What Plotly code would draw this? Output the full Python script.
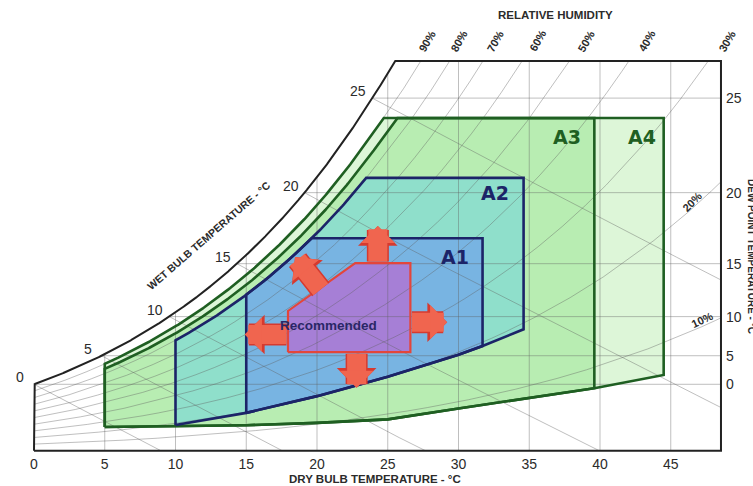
import numpy as np
import plotly.graph_objects as go

# ---------------- values ----------------
dry_bulb_ticks = [0, 5, 10, 15, 20, 25, 30, 35, 40, 45]
dew_point_ticks = [0, 5, 10, 15, 20, 25]
wet_bulb_levels = [0, 5, 10, 15, 20, 25]
rh_levels = [10, 20, 30, 40, 50, 60, 70, 80, 90]
rh_top_labels = [90, 80, 70, 60, 50, 40, 30]
rh_side_labels = [20, 10]
rh_side_label_t = [46.5, 47.2]

frame_t_max = 48.55   # dry bulb at right frame (°C)
frame_w_max = 22.14   # humidity ratio at top frame (g/kg)

zone_names = ["A4", "A3", "A2", "A1"]
zone_t_min = [5, 5, 10, 15]
zone_t_max = [44.5, 39.6, 34.6, 31.7]
zone_w_top = [18.9, 18.9, 15.5, 12.07]
zone_rh_top = [90, 85, 80, 80]
zone_label_t = [43.0, 37.7, 32.6, 29.75]
zone_label_w = [17.8, 17.8, 14.64, 11.0]

a34_bottom_t = [5, 10, 15, 20, 25, 30, 35, 39.6, 44.5]
a34_bottom_w = [1.35, 1.40, 1.45, 1.58, 1.78, 2.4, 3.0, 3.55, 4.3]
a12_bottom_t = [10, 15, 20, 25, 30, 31.7, 34.6]
a12_bottom_w = [1.46, 2.15, 3.1, 4.2, 5.45, 5.95, 6.9]

rec_t = [17.95, 26.6, 26.6, 22.7, 17.95]
rec_w = [5.6, 5.6, 10.66, 10.66, 7.94]
rec_label_t, rec_label_w = 20.8, 7.13

arrow_tail_t = [24.3, 20.35, 17.95, 26.6, 22.8]
arrow_tail_w = [10.66, 9.08, 6.6, 7.3, 5.6]
arrow_tip_t = [24.3, 18.45, 14.9, 29.2, 22.8]
arrow_tip_w = [12.77, 11.0, 6.6, 7.3, 3.57]

# ---------------- styling ----------------
zone_fill = {"A4": "#ddf6d8", "A3": "#b8edb2", "A2": "#8fdfcb", "A1": "#78b4e2"}
zone_line = {"A4": "#1f5f22", "A3": "#1f5f22", "A2": "#1c2468", "A1": "#1c2468"}
rec_fill = "#a67fd6"
red = "#e3463b"
arrow_red = "#f0654f"
arrow_edge = "#d63a2f"
grid_col = "rgba(95,95,95,0.40)"
frame_col = "#222222"
font_family = "Liberation Sans, Arial, sans-serif"
text_col = "#2b2b2b"

# ---------------- psychrometric helpers (chart grid) ----------------
P = 101.325


def pws(t):
    t = np.asarray(t, dtype=float)
    return 0.61094 * np.exp(17.625 * t / (t + 243.04))


def w_from_pw(pw):
    return 622.0 * pw / (P - pw)


def to_chart(tp):
    tp = np.asarray(tp, dtype=float)
    return tp - 1.1 * np.clip(tp / 25.0, 0, 1)


TP = np.linspace(-0.5, 62, 6000)
TC = to_chart(TP)
WSAT = w_from_pw(pws(TP))


def rh_curve(rh):
    return TC, w_from_pw(rh / 100.0 * pws(TP))


def clip_pts(tc, w, t_lo=0.0):
    m = (tc >= t_lo) & (tc <= frame_t_max) & (w <= frame_w_max) & (w >= 0)
    return tc[m], w[m]


gx, gy = [], []


def add_seg(xs, ys):
    gx.extend(list(xs) + [None])
    gy.extend(list(ys) + [None])


for rh in rh_levels:
    tc, w = rh_curve(rh)
    tc, w = clip_pts(tc, w)
    add_seg(tc, w)
for t in dry_bulb_ticks[1:]:
    wtop = min(float(np.interp(t, TC, WSAT)), frame_w_max)
    add_seg([t, t], [0, wtop])
for dp in dew_point_ticks:
    wdp = float(w_from_pw(pws(dp)))
    add_seg([float(to_chart(dp)), frame_t_max], [wdp, wdp])
for twb in wet_bulb_levels:
    tp = np.linspace(twb, 70, 1500)
    wsw = w_from_pw(pws(twb))
    w = ((2501 - 2.326 * twb) * wsw - 1006 * (tp - twb)) / (2501 + 1.86 * tp - 4.186 * twb)
    tc = to_chart(tp)
    tc, w = clip_pts(tc, w)
    add_seg(tc, w)


def zone_polygon(i):
    tmin, tmax, wtop, rh = zone_t_min[i], zone_t_max[i], zone_w_top[i], zone_rh_top[i]
    if zone_names[i] in ("A4", "A3"):
        bt, bw = a34_bottom_t, a34_bottom_w
    else:
        bt, bw = a12_bottom_t, a12_bottom_w
    xs = [t for t in bt if tmin <= t <= tmax]
    ys = [w for t, w in zip(bt, bw) if tmin <= t <= tmax]
    xs += [tmax]
    ys += [wtop]
    tc, w = rh_curve(rh)
    t_end = float(np.interp(wtop, w, tc))
    xs += [t_end]
    ys += [wtop]
    m = (tc >= tmin) & (tc <= t_end)
    xs += list(tc[m][::-1][::8])
    ys += list(w[m][::-1][::8])
    w_start = float(np.interp(tmin, tc, w))
    xs += [tmin, xs[0]]
    ys += [w_start, ys[0]]
    return xs, ys


fig = go.Figure()
polys = [zone_polygon(i) for i in range(len(zone_names))]
for name, (xs, ys) in zip(zone_names, polys):
    fig.add_trace(go.Scatter(x=xs, y=ys, mode="lines", fill="toself",
                             fillcolor=zone_fill[name], line=dict(width=0),
                             hoverinfo="skip", showlegend=False))
fig.add_trace(go.Scatter(x=rec_t + [rec_t[0]], y=rec_w + [rec_w[0]], mode="lines",
                         fill="toself", fillcolor=rec_fill, line=dict(width=0),
                         hoverinfo="skip", showlegend=False))
fig.add_trace(go.Scatter(x=gx, y=gy, mode="lines", line=dict(color=grid_col, width=1),
                         hoverinfo="skip", showlegend=False))
for name, (xs, ys) in zip(zone_names, polys):
    fig.add_trace(go.Scatter(x=xs, y=ys, mode="lines",
                             line=dict(color=zone_line[name], width=2.6),
                             hoverinfo="skip", showlegend=False))
fig.add_trace(go.Scatter(x=rec_t + [rec_t[0]], y=rec_w + [rec_w[0]], mode="lines",
                         line=dict(color=red, width=2.2), hoverinfo="skip", showlegend=False))

w0 = float(np.interp(0.0, TC, WSAT))
m = (TC >= 0) & (WSAT <= frame_w_max)
t_top = float(np.interp(frame_w_max, WSAT, TC))
fx = [0.0, 0.0] + list(TC[m]) + [t_top, frame_t_max, frame_t_max, 0.0]
fy = [0.0, w0] + list(WSAT[m]) + [frame_w_max, frame_w_max, 0.0, 0.0]
fig.add_trace(go.Scatter(x=fx, y=fy, mode="lines", line=dict(color=frame_col, width=2),
                         hoverinfo="skip", showlegend=False))

# arrows: darker edge underneath, lighter body on top
for width, col in [(22, arrow_edge), (19, arrow_red)]:
    for i in range(len(arrow_tip_t)):
        fig.add_annotation(x=arrow_tip_t[i], y=arrow_tip_w[i], ax=arrow_tail_t[i], ay=arrow_tail_w[i],
                           xref="x", yref="y", axref="x", ayref="y", text="", showarrow=True,
                           arrowhead=1, arrowsize=0.3, arrowwidth=width, arrowcolor=col,
                           standoff=0, startstandoff=0)

for name, lt, lw in zip(zone_names, zone_label_t, zone_label_w):
    fig.add_annotation(x=lt, y=lw, xref="x", yref="y", showarrow=False,
                       xanchor="center", yanchor="middle",
                       text="<b>%s</b>" % name,
                       font=dict(family="DejaVu Sans, Liberation Sans, Arial", size=19, color=zone_line[name]))
fig.add_annotation(x=rec_label_t, y=rec_label_w, xref="x", yref="y", showarrow=False,
                   xanchor="center", yanchor="middle",
                   text="<b>Recommended</b>",
                   font=dict(family=font_family, size=13.5, color="#2a2766"))

for twb in wet_bulb_levels:
    fig.add_annotation(x=float(to_chart(twb)), y=float(w_from_pw(pws(twb))), xref="x", yref="y",
                       showarrow=False, text=str(twb), xshift=-14, yshift=7,
                       xanchor="center", yanchor="middle",
                       font=dict(family=font_family, size=14, color=text_col))

for rh in rh_top_labels:
    tc, w = rh_curve(rh)
    t_cross = float(np.interp(frame_w_max, w, tc))
    shift = 17 + 0.1 * max(0, 50 - rh) - 0.3 * max(0, rh - 55)
    fig.add_annotation(x=t_cross, y=frame_w_max, xref="x", yref="y", showarrow=False,
                       xanchor="center", yanchor="middle",
                       text="<b>%d%%</b>" % rh, textangle=-60, xshift=shift, yshift=20,
                       font=dict(family=font_family, size=11, color=text_col))
side_angles = [-45, -25]
for rh, lt, ang in zip(rh_side_labels, rh_side_label_t, side_angles):
    tc, w = rh_curve(rh)
    fig.add_annotation(x=lt, y=float(np.interp(lt, tc, w)), xref="x", yref="y", showarrow=False,
                       xanchor="center", yanchor="middle",
                       text="<b>%d%%</b>" % rh, textangle=ang, yshift=7,
                       font=dict(family=font_family, size=11, color=text_col))

for tx, ty, txt, ang, fs in [
    (0.4993, -0.0628, "DRY BULB TEMPERATURE - °C", 0, 11.5),
    (0.758, 1.103, "RELATIVE HUMIDITY", 0, 11.5),
    (0.2618, 0.5503, "WET BULB TEMPERATURE - °C", -41, 10.5),
    (1.0372, 0.4975, "DEW POINT TEMPERATURE - °C", 90, 10),
]:
    fig.add_annotation(xref="paper", yref="paper", x=tx, y=ty, showarrow=False,
                       xanchor="center", yanchor="middle",
                       text="<b>%s</b>" % txt, textangle=ang,
                       font=dict(family=font_family, size=fs, color=text_col))

dp_tickvals = [float(w_from_pw(pws(d))) for d in dew_point_ticks]
fig.update_layout(
    width=753, height=486, autosize=False,
    margin=dict(l=26, r=28, t=56, b=32),
    paper_bgcolor="white", plot_bgcolor="white",
    xaxis=dict(range=[-0.5654, 48.834], showgrid=False, zeroline=False, showline=False,
               tickvals=dry_bulb_ticks, ticktext=[str(t) for t in dry_bulb_ticks],
               tickfont=dict(family=font_family, size=14, color=text_col), fixedrange=True),
    yaxis=dict(range=[-0.1875, 22.4261], side="right", showgrid=False, zeroline=False,
               showline=False, tickvals=dp_tickvals, ticktext=[str(d) for d in dew_point_ticks],
               tickfont=dict(family=font_family, size=14, color=text_col), fixedrange=True),
    showlegend=False,
)

fig.write_html("out.html", config={"displayModeBar": False},
               post_script="document.body.style.margin='0px';")
